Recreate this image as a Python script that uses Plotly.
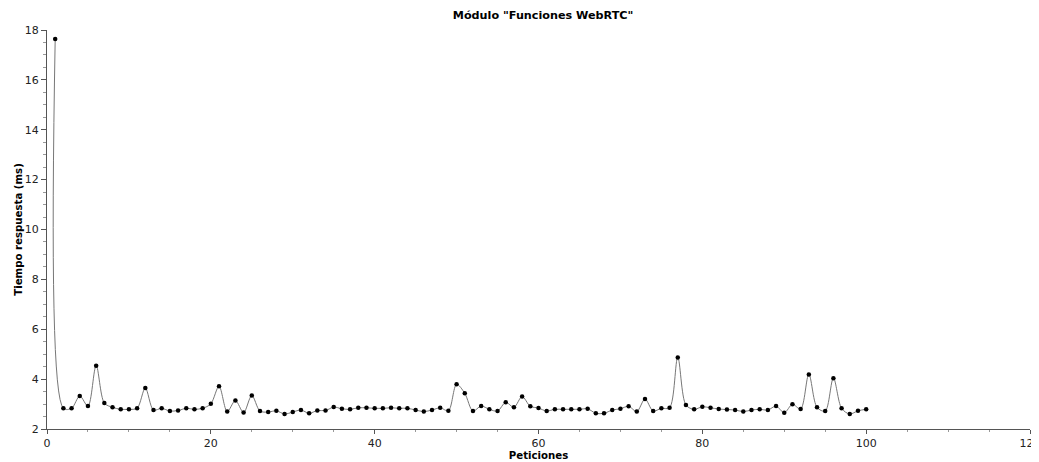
import plotly.graph_objects as go

peticiones = list(range(1, 101))
tiempo_ms = [
    17.64, 2.83, 2.83, 3.32, 2.92, 4.54, 3.04, 2.87, 2.79, 2.79,
    2.83, 3.64, 2.76, 2.83, 2.72, 2.74, 2.83, 2.79, 2.83, 3.01,
    3.71, 2.70, 3.14, 2.66, 3.34, 2.72, 2.68, 2.73, 2.60, 2.68,
    2.76, 2.63, 2.74, 2.74, 2.88, 2.81, 2.79, 2.85, 2.85, 2.83,
    2.83, 2.85, 2.83, 2.83, 2.76, 2.70, 2.76, 2.85, 2.73, 3.79,
    3.43, 2.72, 2.92, 2.79, 2.72, 3.07, 2.87, 3.30, 2.91, 2.84,
    2.72, 2.79, 2.79, 2.79, 2.79, 2.81, 2.63, 2.63, 2.76, 2.81,
    2.91, 2.70, 3.20, 2.72, 2.83, 2.85, 4.87, 2.96, 2.79, 2.89,
    2.85, 2.80, 2.78, 2.76, 2.70, 2.76, 2.79, 2.76, 2.92, 2.65,
    2.99, 2.80, 4.19, 2.87, 2.72, 4.04, 2.83, 2.60, 2.73, 2.79,
]

titulo = 'Módulo "Funciones WebRTC"'
x_titulo = "Peticiones"
y_titulo = "Tiempo respuesta (ms)"

fig = go.Figure()
fig.add_trace(go.Scatter(
    x=peticiones, y=tiempo_ms, mode="lines+markers",
    line=dict(color="#777777", width=1, shape="spline", smoothing=0.9),
    marker=dict(color="black", size=4.5),
    showlegend=False,
))

font_family = "DejaVu Sans, Verdana, sans-serif"
# the page body adds an 8px offset, so the figure is sized to fit the window
fig.update_layout(
    width=1031, height=454,
    margin=dict(l=39, r=9, t=22, b=33),
    paper_bgcolor="white", plot_bgcolor="white",
    font=dict(family=font_family, size=11, color="#222222"),
    title=dict(text="<b>" + titulo + "</b>", x=0.519, xanchor="center",
               y=0.985, yanchor="middle", font=dict(size=11.2, color="black")),
)
fig.update_xaxes(
    range=[0, 120], tickmode="linear", tick0=0, dtick=20, automargin=False,
    ticklabeloverflow="allow",
    showgrid=False, zeroline=False, showline=True, linecolor="#555555", linewidth=1,
    ticks="outside", ticklen=4, tickcolor="#555555",
    minor=dict(dtick=5, ticks="outside", ticklen=2, tickcolor="#999999", showgrid=False),
    title=dict(text="<b>" + x_titulo + "</b>", standoff=0, font=dict(size=10.2, color="black")),
)
fig.update_yaxes(
    range=[2, 18], tickmode="linear", tick0=2, dtick=2, automargin=False,
    showgrid=False, zeroline=False, showline=True, linecolor="#555555", linewidth=1,
    ticks="outside", ticklen=5, tickcolor="#555555",
    minor=dict(dtick=0.5, ticks="outside", ticklen=3, tickcolor="#999999", showgrid=False),
    title=dict(text="<b>" + y_titulo + "</b>", standoff=0, font=dict(size=10.2, color="black")),
)

fig.write_html("out.html")
